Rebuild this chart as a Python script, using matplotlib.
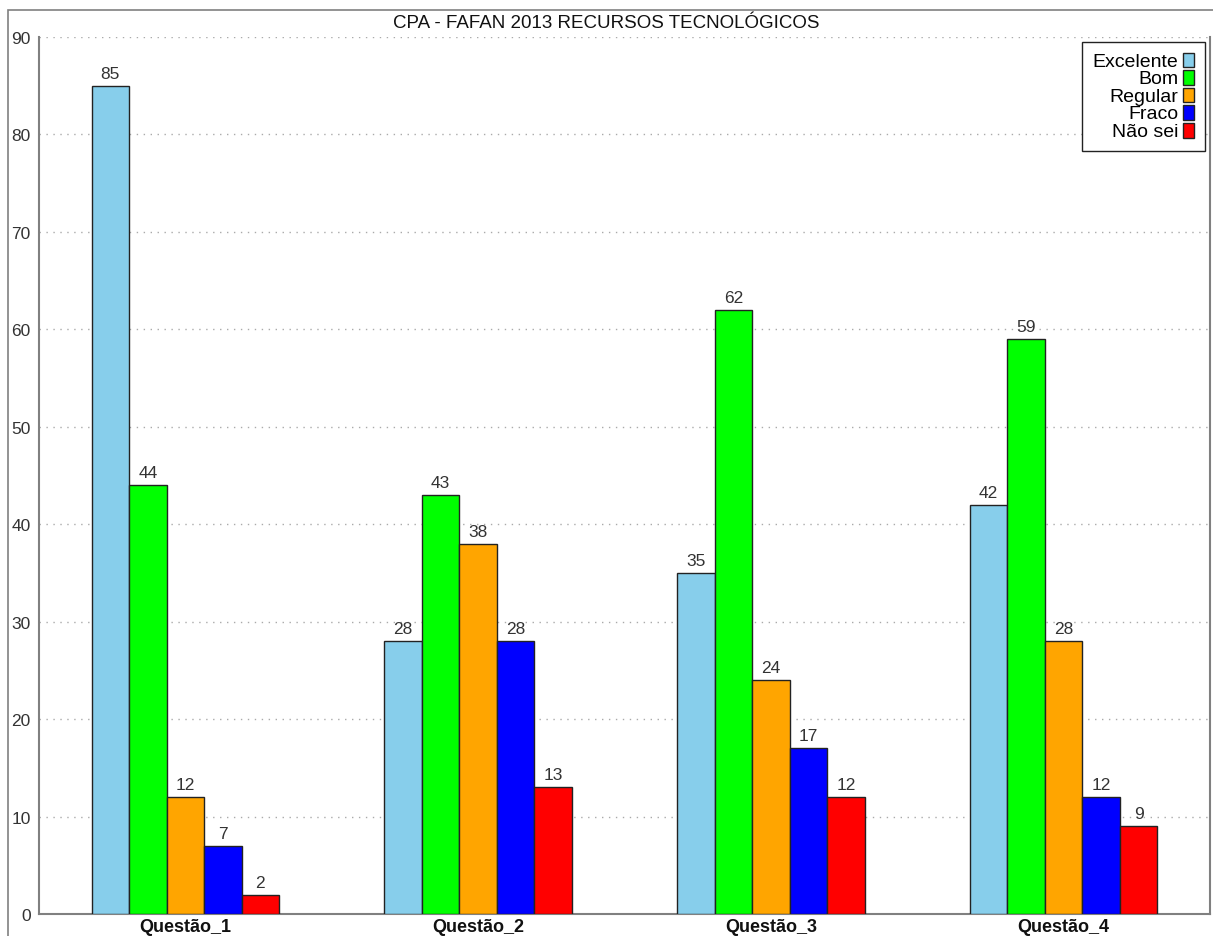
import matplotlib
matplotlib.use("Agg")
import matplotlib.pyplot as plt
import numpy as np
from matplotlib.patches import Rectangle

plt.rcParams['font.family'] = ['Liberation Sans', 'DejaVu Sans']

# dados
questoes = ['Questão_1', 'Questão_2', 'Questão_3', 'Questão_4']
categorias = ['Excelente', 'Bom', 'Regular', 'Fraco', 'Não sei']
excelente = [85, 28, 35, 42]
bom = [44, 43, 62, 59]
regular = [12, 38, 24, 28]
fraco = [7, 28, 17, 12]
nao_sei = [2, 13, 12, 9]
cores = ['#87ceeb', '#00ff00', '#ffa500', '#0000ff', '#ff0000']

series = [excelente, bom, regular, fraco, nao_sei]

W, H = 1213, 937
fig = plt.figure(figsize=(W/100, H/100), dpi=100)
ax = fig.add_axes([39/W, 22/H, (1210-39)/W, (915-38)/H])

# moldura externa
fig.patches.append(Rectangle((8/W, -0.05), 1.1, (H-11)/H + 0.05,
                             transform=fig.transFigure, fill=False,
                             edgecolor='#808080', linewidth=1.2, zorder=0))

x = np.arange(len(questoes))
w = 0.128
for i, (nome, vals) in enumerate(zip(categorias, series)):
    pos = x + (i - 2) * w
    bars = ax.bar(pos, vals, width=w, color=cores[i], edgecolor='#222222',
                  linewidth=1, label=nome, zorder=3)
    for b, v in zip(bars, vals):
        ax.text(b.get_x() + b.get_width()/2, v + 0.5, str(v), ha='center',
                va='bottom', fontsize=12.5, color='#333333')

ax.set_xlim(-0.5, 3.5)
ax.set_ylim(0, 90)
ax.set_yticks(range(0, 91, 10))
ax.set_xticks(x)
ax.set_xticklabels(questoes, fontsize=13, fontweight='bold', color='#111111')
ax.tick_params(axis='both', length=0)
ax.tick_params(axis='y', pad=6, labelsize=12.5, labelcolor='#333333')
ax.tick_params(axis='x', pad=3)
ax.yaxis.grid(True, linestyle=(0, (1, 4)), color='#aaaaaa', linewidth=1, zorder=0)
ax.set_axisbelow(True)
ax.spines['top'].set_visible(False)
for s in ['left', 'bottom', 'right']:
    ax.spines[s].set_color('#808080')
    ax.spines[s].set_linewidth(1.5)

fig.text(0.5, (H-24)/H, 'CPA - FAFAN 2013 RECURSOS TECNOLÓGICOS',
         ha='center', va='center', fontsize=13.5, color='#111111')

leg = ax.legend(loc='upper right', markerfirst=False, fontsize=14,
                handlelength=0.56, handleheight=0.77, labelspacing=0.03,
                handletextpad=0.26, borderpad=0.55, borderaxespad=0,
                fancybox=False, framealpha=1, edgecolor='#222222',
                bbox_to_anchor=(1205/W, (H-43)/H), bbox_transform=fig.transFigure)
leg.get_frame().set_linewidth(1)
for t in leg.get_texts():
    t.set_ha('right')
leg._legend_box.align = 'right'
for vp in leg._legend_handle_box.get_children():
    for c in vp.get_children():
        c.align = 'right'

fig.savefig('out.png', dpi=100)
